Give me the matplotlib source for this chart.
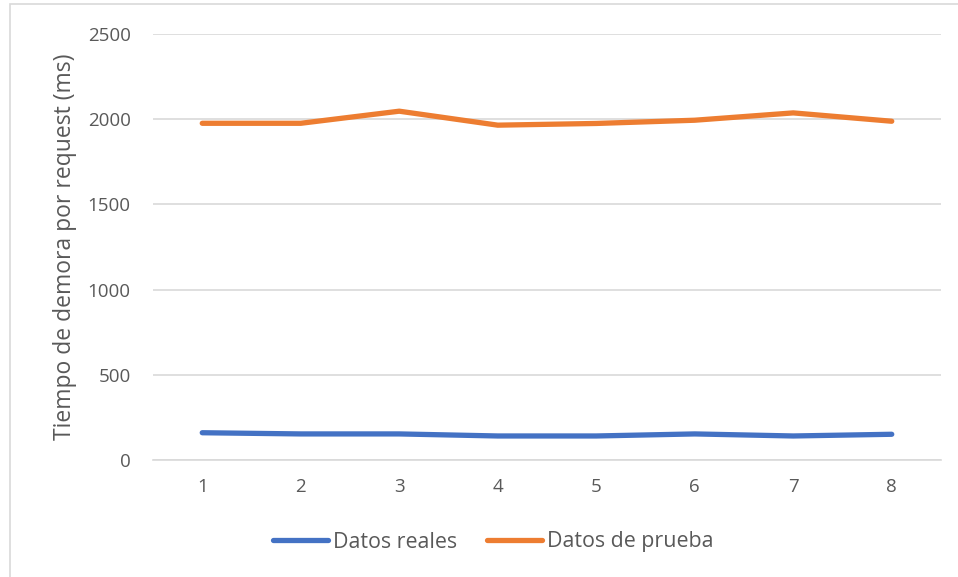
import matplotlib.pyplot as plt
from matplotlib.patches import Rectangle

# datos
pruebas = [1, 2, 3, 4, 5, 6, 7, 8]
datos_reales = [160, 153, 153, 141, 141, 153, 141, 151]
datos_prueba = [1976, 1976, 2047, 1965, 1975, 1994, 2037, 1988]

plt.rcParams['font.family'] = ['Open Sans', 'DejaVu Sans']
gris = '#595959'

fig = plt.figure(figsize=(9.58, 5.77), dpi=100)
ax = fig.add_axes([153/958, 1 - 460/577, (941-153)/958, (460-34)/577])

ax.plot(range(len(pruebas)), datos_reales, color='#4472C4', lw=3.8,
        solid_capstyle='round', label='Datos reales')
ax.plot(range(len(pruebas)), datos_prueba, color='#ED7D31', lw=3.8,
        solid_capstyle='round', label='Datos de prueba')

ax.set_xlim(-0.5, len(pruebas) - 0.5)
ax.set_ylim(0, 2500)
ax.set_yticks(range(0, 2501, 500))
ax.set_xticks(range(len(pruebas)))
ax.set_xticklabels([str(p) for p in pruebas])
ax.grid(axis='y', color='#D9D9D9', lw=1.2)
ax.set_axisbelow(True)
for s in ['top', 'right', 'left']:
    ax.spines[s].set_visible(False)
ax.spines['bottom'].set_color('#D9D9D9')
ax.spines['bottom'].set_linewidth(1.2)
ax.tick_params(length=0, labelsize=13.5, labelcolor=gris)
ax.tick_params(axis='y', pad=16)
ax.tick_params(axis='x', pad=13)
ax.set_ylabel('Tiempo de demora por request (ms)', fontsize=16.5, color=gris)
ax.yaxis.set_label_coords(-76/788, 0.5)

leg = fig.legend(loc='center', bbox_to_anchor=(493/958, 1 - 542/577), ncol=2,
                 frameon=False, fontsize=15.4, handlelength=2.6, handletextpad=0.2,
                 columnspacing=1.4, labelcolor=gris)

# borde del area del grafico
fig.patches.append(Rectangle((10/958, -0.1), 1.1, 1 - 4/577 + 0.1, transform=fig.transFigure,
                             fill=False, edgecolor='#D9D9D9', lw=1.2))

fig.savefig('out.png', dpi=100)
